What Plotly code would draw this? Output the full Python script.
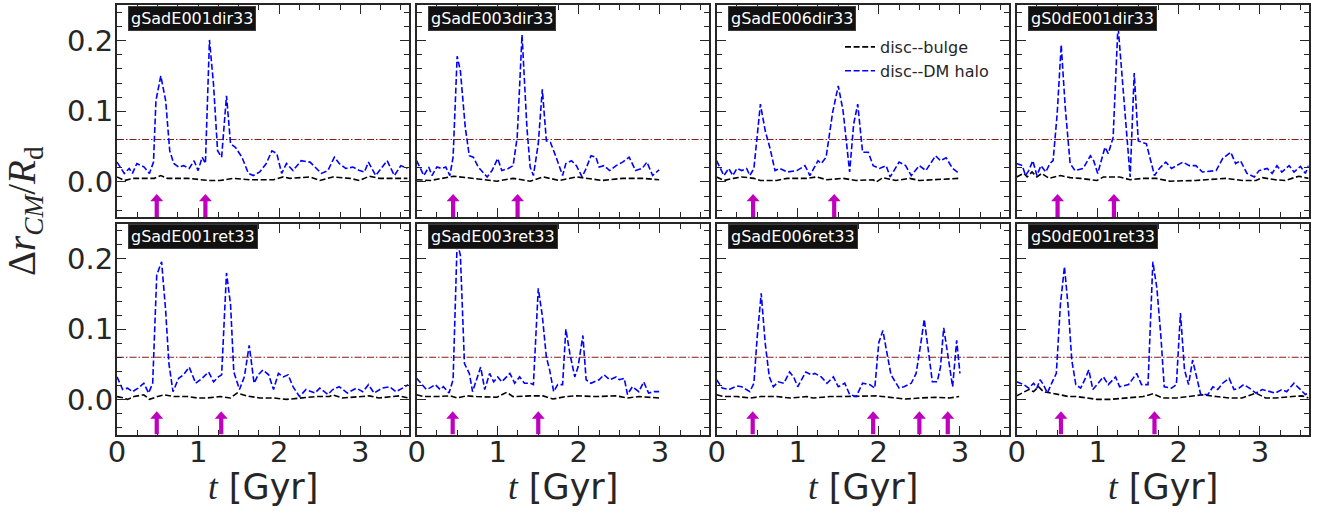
import plotly.graph_objects as go
from plotly.subplots import make_subplots

# ---------------- data ----------------
panel_names = ["gSadE001dir33", "gSadE003dir33", "gSadE006dir33", "gS0dE001dir33",
               "gSadE001ret33", "gSadE003ret33", "gSadE006ret33", "gS0dE001ret33"]

# disc--DM halo (blue)
t_halo_1 = [0.0, 0.09, 0.15, 0.19, 0.245, 0.335, 0.40, 0.45, 0.48, 0.54, 0.60, 0.65, 0.70, 0.76, 0.82, 0.89, 0.95, 1.0, 1.05, 1.09, 1.14, 1.19, 1.24, 1.29, 1.35, 1.40, 1.46, 1.54, 1.62, 1.68, 1.76, 1.84, 1.91, 1.97, 2.03, 2.09, 2.17, 2.27, 2.38, 2.46, 2.52, 2.60, 2.68, 2.74, 2.82, 2.91, 2.99, 3.05, 3.10, 3.19, 3.33, 3.42, 3.50, 3.58]
v_halo_1 = [0.028, 0.012, 0.019, 0.012, 0.026, 0.021, 0.012, 0.028, 0.115, 0.150, 0.115, 0.044, 0.026, 0.021, 0.023, 0.019, 0.030, 0.016, 0.035, 0.026, 0.201, 0.138, 0.044, 0.035, 0.122, 0.054, 0.049, 0.035, 0.012, 0.009, 0.014, 0.026, 0.044, 0.040, 0.012, 0.026, 0.016, 0.030, 0.028, 0.019, 0.012, 0.016, 0.035, 0.026, 0.019, 0.021, 0.016, 0.014, 0.028, 0.009, 0.030, 0.009, 0.023, 0.019]

t_halo_2 = [0.0, 0.09, 0.15, 0.19, 0.25, 0.31, 0.36, 0.41, 0.45, 0.50, 0.54, 0.60, 0.65, 0.70, 0.76, 0.87, 0.93, 1.0, 1.05, 1.13, 1.19, 1.24, 1.30, 1.36, 1.40, 1.44, 1.50, 1.55, 1.60, 1.65, 1.72, 1.80, 1.84, 1.91, 1.97, 2.04, 2.09, 2.15, 2.21, 2.25, 2.31, 2.38, 2.46, 2.54, 2.62, 2.70, 2.78, 2.84, 2.91, 2.99]
v_halo_2 = [0.030, 0.009, 0.021, 0.009, 0.021, 0.019, 0.021, 0.009, 0.035, 0.178, 0.157, 0.077, 0.037, 0.035, 0.021, 0.007, 0.016, 0.033, 0.016, 0.019, 0.023, 0.063, 0.208, 0.077, 0.021, 0.009, 0.054, 0.131, 0.058, 0.056, 0.035, 0.009, 0.026, 0.030, 0.023, 0.007, 0.019, 0.037, 0.035, 0.021, 0.023, 0.016, 0.023, 0.028, 0.035, 0.016, 0.019, 0.028, 0.009, 0.017]

t_halo_3 = [0.0, 0.09, 0.15, 0.20, 0.25, 0.31, 0.37, 0.41, 0.46, 0.54, 0.60, 0.66, 0.72, 0.78, 0.87, 0.99, 1.09, 1.15, 1.25, 1.29, 1.35, 1.43, 1.50, 1.56, 1.64, 1.69, 1.74, 1.80, 1.87, 1.93, 2.01, 2.09, 2.14, 2.25, 2.33, 2.40, 2.50, 2.58, 2.70, 2.76, 2.83, 2.91, 2.99]
v_halo_3 = [0.030, 0.009, 0.019, 0.009, 0.019, 0.016, 0.019, 0.009, 0.019, 0.110, 0.072, 0.047, 0.016, 0.019, 0.014, 0.016, 0.023, 0.009, 0.030, 0.026, 0.035, 0.098, 0.136, 0.100, 0.014, 0.082, 0.110, 0.042, 0.042, 0.023, 0.019, 0.023, 0.007, 0.028, 0.023, 0.009, 0.023, 0.016, 0.037, 0.030, 0.034, 0.019, 0.012]

t_halo_4 = [0.0, 0.07, 0.11, 0.15, 0.20, 0.25, 0.30, 0.36, 0.41, 0.45, 0.50, 0.55, 0.60, 0.66, 0.72, 0.82, 0.91, 0.95, 1.0, 1.09, 1.13, 1.19, 1.25, 1.31, 1.40, 1.45, 1.50, 1.60, 1.70, 1.76, 1.84, 1.91, 2.05, 2.13, 2.21, 2.29, 2.46, 2.54, 2.64, 2.70, 2.76, 2.84, 2.93, 2.99, 3.09, 3.15, 3.21, 3.27, 3.36, 3.42, 3.50, 3.56, 3.60]
v_halo_4 = [0.026, 0.023, 0.009, 0.016, 0.030, 0.009, 0.023, 0.014, 0.026, 0.030, 0.096, 0.194, 0.105, 0.026, 0.016, 0.019, 0.037, 0.030, 0.012, 0.049, 0.040, 0.063, 0.222, 0.138, 0.007, 0.154, 0.058, 0.054, 0.009, 0.019, 0.028, 0.019, 0.028, 0.023, 0.023, 0.014, 0.016, 0.033, 0.042, 0.026, 0.030, 0.012, 0.007, 0.016, 0.019, 0.012, 0.023, 0.014, 0.023, 0.014, 0.022, 0.012, 0.023]

t_halo_5 = [0.0, 0.07, 0.13, 0.19, 0.26, 0.33, 0.39, 0.44, 0.49, 0.55, 0.60, 0.64, 0.69, 0.76, 0.82, 0.89, 0.97, 1.05, 1.13, 1.19, 1.25, 1.29, 1.35, 1.40, 1.44, 1.51, 1.57, 1.63, 1.69, 1.74, 1.80, 1.87, 1.93, 1.99, 2.05, 2.11, 2.17, 2.25, 2.33, 2.44, 2.50, 2.60, 2.66, 2.74, 2.84, 2.95, 3.03, 3.10, 3.17, 3.27, 3.36, 3.44, 3.52, 3.59]
v_halo_5 = [0.032, 0.014, 0.016, 0.011, 0.016, 0.023, 0.009, 0.023, 0.177, 0.196, 0.126, 0.051, 0.011, 0.030, 0.035, 0.046, 0.023, 0.030, 0.039, 0.025, 0.032, 0.035, 0.180, 0.135, 0.039, 0.014, 0.032, 0.077, 0.023, 0.035, 0.042, 0.035, 0.014, 0.037, 0.032, 0.035, 0.018, 0.004, 0.014, 0.009, 0.016, 0.007, 0.014, 0.018, 0.009, 0.016, 0.011, 0.021, 0.009, 0.016, 0.018, 0.011, 0.016, 0.021]

t_halo_6 = [0.0, 0.07, 0.12, 0.16, 0.23, 0.29, 0.33, 0.40, 0.45, 0.50, 0.54, 0.59, 0.65, 0.69, 0.74, 0.79, 0.84, 0.90, 0.95, 1.0, 1.05, 1.11, 1.15, 1.21, 1.27, 1.33, 1.40, 1.44, 1.50, 1.55, 1.60, 1.64, 1.69, 1.74, 1.80, 1.84, 1.89, 1.95, 1.99, 2.05, 2.09, 2.15, 2.25, 2.31, 2.38, 2.46, 2.50, 2.56, 2.60, 2.66, 2.74, 2.80, 2.86, 2.93, 2.99]
v_halo_6 = [0.030, 0.021, 0.014, 0.016, 0.021, 0.014, 0.018, 0.009, 0.028, 0.225, 0.205, 0.051, 0.037, 0.011, 0.030, 0.046, 0.014, 0.037, 0.025, 0.032, 0.025, 0.032, 0.037, 0.023, 0.032, 0.023, 0.023, 0.021, 0.158, 0.119, 0.060, 0.042, 0.011, 0.021, 0.021, 0.100, 0.065, 0.032, 0.046, 0.091, 0.028, 0.023, 0.028, 0.035, 0.028, 0.032, 0.028, 0.030, 0.007, 0.018, 0.011, 0.025, 0.009, 0.011, 0.011]

t_halo_7 = [0.0, 0.07, 0.15, 0.25, 0.31, 0.41, 0.46, 0.50, 0.55, 0.60, 0.65, 0.70, 0.76, 0.83, 0.90, 0.95, 1.0, 1.10, 1.17, 1.21, 1.29, 1.36, 1.44, 1.50, 1.58, 1.64, 1.72, 1.80, 1.89, 1.95, 2.0, 2.05, 2.11, 2.15, 2.25, 2.31, 2.40, 2.46, 2.51, 2.56, 2.61, 2.66, 2.72, 2.76, 2.80, 2.86, 2.91, 2.96, 3.0]
v_halo_7 = [0.028, 0.016, 0.014, 0.019, 0.018, 0.011, 0.023, 0.088, 0.151, 0.079, 0.032, 0.018, 0.025, 0.023, 0.039, 0.032, 0.018, 0.039, 0.035, 0.037, 0.032, 0.023, 0.032, 0.018, 0.023, 0.007, 0.004, 0.023, 0.021, 0.016, 0.081, 0.098, 0.060, 0.035, 0.016, 0.018, 0.023, 0.037, 0.074, 0.114, 0.070, 0.025, 0.025, 0.046, 0.102, 0.056, 0.018, 0.084, 0.037]

t_halo_8 = [0.0, 0.09, 0.15, 0.21, 0.25, 0.29, 0.33, 0.38, 0.44, 0.49, 0.54, 0.59, 0.64, 0.68, 0.73, 0.79, 0.84, 0.89, 0.94, 0.99, 1.07, 1.13, 1.22, 1.27, 1.38, 1.48, 1.54, 1.62, 1.68, 1.73, 1.78, 1.82, 1.91, 1.97, 2.02, 2.07, 2.12, 2.17, 2.22, 2.27, 2.36, 2.42, 2.48, 2.54, 2.62, 2.68, 2.74, 2.80, 2.87, 2.95, 3.03, 3.11, 3.19, 3.27, 3.33, 3.42, 3.48, 3.56, 3.60]
v_halo_8 = [0.025, 0.021, 0.016, 0.023, 0.016, 0.028, 0.021, 0.009, 0.025, 0.037, 0.135, 0.189, 0.126, 0.056, 0.021, 0.016, 0.028, 0.042, 0.014, 0.021, 0.032, 0.021, 0.032, 0.018, 0.021, 0.037, 0.021, 0.021, 0.196, 0.158, 0.088, 0.018, 0.016, 0.021, 0.123, 0.042, 0.021, 0.056, 0.032, 0.007, 0.007, 0.018, 0.014, 0.023, 0.030, 0.014, 0.016, 0.021, 0.016, 0.009, 0.014, 0.011, 0.009, 0.014, 0.011, 0.023, 0.016, 0.007, 0.009]

# disc--bulge (black)
t_bulge_1 = [0.0, 0.09, 0.21, 0.33, 0.46, 0.54, 0.62, 0.87, 1.13, 1.27, 1.44, 1.64, 1.93, 2.05, 2.13, 2.38, 2.50, 2.66, 2.87, 2.99, 3.11, 3.23, 3.58]
v_bulge_1 = [0.007, 0.002, 0.005, 0.005, 0.005, 0.009, 0.005, 0.005, 0.002, 0.002, 0.005, 0.003, 0.003, 0.007, 0.005, 0.007, 0.002, 0.007, 0.005, 0.002, 0.008, 0.005, 0.005]

t_bulge_2 = [0.0, 0.17, 0.46, 0.66, 0.99, 1.19, 1.40, 1.56, 1.76, 1.97, 2.29, 2.54, 2.78, 2.99]
v_bulge_2 = [0.003, 0.002, 0.008, 0.005, 0.001, 0.005, 0.001, 0.007, 0.002, 0.007, 0.002, 0.005, 0.005, 0.003]

t_bulge_3 = [0.0, 0.09, 0.21, 0.31, 0.46, 0.54, 0.74, 0.87, 1.11, 1.23, 1.36, 1.56, 1.72, 1.93, 1.97, 2.05, 2.21, 2.38, 2.50, 2.70, 2.99]
v_bulge_3 = [0.007, 0.002, 0.005, 0.007, 0.005, 0.002, 0.002, 0.005, 0.005, 0.007, 0.003, 0.005, 0.002, 0.003, 0.000, 0.006, 0.002, 0.005, 0.002, 0.003, 0.005]

t_bulge_4 = [0.0, 0.09, 0.13, 0.19, 0.25, 0.31, 0.40, 0.54, 0.66, 0.78, 0.99, 1.07, 1.27, 1.40, 1.56, 1.72, 1.89, 2.21, 2.58, 2.78, 2.95, 3.03, 3.19, 3.31, 3.48, 3.60]
v_bulge_4 = [0.007, 0.012, 0.007, 0.014, 0.007, 0.012, 0.005, 0.009, 0.006, 0.005, 0.002, 0.007, 0.007, 0.003, 0.005, 0.005, 0.001, 0.002, 0.005, 0.002, 0.002, 0.006, 0.003, 0.002, 0.008, 0.005]

t_bulge_5 = [0.0, 0.09, 0.13, 0.21, 0.33, 0.40, 0.50, 0.58, 0.70, 0.87, 0.99, 1.11, 1.27, 1.40, 1.48, 1.60, 1.76, 1.93, 2.09, 2.25, 2.46, 2.62, 2.66, 2.78, 2.95, 3.11, 3.23, 3.48, 3.59]
v_bulge_5 = [0.004, 0.002, 0.000, 0.004, 0.0065, 0.000, 0.004, 0.0065, 0.004, 0.004, 0.002, 0.002, 0.004, 0.002, 0.009, 0.005, 0.002, 0.002, 0.000, 0.002, 0.004, 0.004, 0.0065, 0.002, 0.004, 0.005, 0.002, 0.005, 0.002]

t_bulge_6 = [0.0, 0.09, 0.25, 0.42, 0.50, 0.62, 0.74, 0.99, 1.11, 1.19, 1.40, 1.56, 1.68, 1.84, 1.97, 2.21, 2.46, 2.60, 2.74, 2.95, 2.99]
v_bulge_6 = [0.0065, 0.004, 0.004, 0.005, 0.002, 0.005, 0.004, 0.003, 0.010, 0.004, 0.005, 0.005, 0.0005, 0.004, 0.005, 0.004, 0.005, 0.002, 0.004, 0.003, 0.002]

t_bulge_7 = [0.0, 0.09, 0.25, 0.42, 0.54, 0.74, 0.91, 1.11, 1.19, 1.40, 1.56, 1.76, 1.97, 2.21, 2.33, 2.50, 2.70, 2.87, 2.99]
v_bulge_7 = [0.0065, 0.004, 0.004, 0.002, 0.004, 0.004, 0.002, 0.004, 0.002, 0.004, 0.004, 0.004, 0.005, 0.002, 0.0005, 0.002, 0.003, 0.002, 0.004]

t_bulge_8 = [0.0, 0.09, 0.15, 0.21, 0.27, 0.33, 0.44, 0.54, 0.64, 0.74, 0.87, 0.99, 1.15, 1.36, 1.56, 1.68, 1.80, 1.97, 2.13, 2.29, 2.46, 2.62, 2.78, 2.95, 3.07, 3.19, 3.40, 3.52, 3.60]
v_bulge_8 = [0.005, 0.011, 0.014, 0.011, 0.018, 0.011, 0.009, 0.0065, 0.004, 0.004, 0.002, 0.000, 0.000, 0.002, 0.004, 0.008, 0.002, 0.002, 0.004, 0.0065, 0.004, 0.002, 0.002, 0.009, 0.002, 0.002, 0.004, 0.005, 0.002]

# arrow (event) times per panel, in Gyr
arrows_1 = [0.49, 1.09]
arrows_2 = [0.45, 1.245]
arrows_3 = [0.45, 1.45]
arrows_4 = [0.505, 1.20]
arrows_5 = [0.49, 1.285]
arrows_6 = [0.445, 1.50]
arrows_7 = [0.445, 1.93, 2.50, 2.85]
arrows_8 = [0.547, 1.70]

threshold = 0.06

x_ticks = [0, 1, 2, 3]
y_ticks = [0.0, 0.1, 0.2]
x_range = [0, 3.6]
y_range = [-0.05, 0.25]

halo_t = [t_halo_1, t_halo_2, t_halo_3, t_halo_4, t_halo_5, t_halo_6, t_halo_7, t_halo_8]
halo_v = [v_halo_1, v_halo_2, v_halo_3, v_halo_4, v_halo_5, v_halo_6, v_halo_7, v_halo_8]
bulge_t = [t_bulge_1, t_bulge_2, t_bulge_3, t_bulge_4, t_bulge_5, t_bulge_6, t_bulge_7, t_bulge_8]
bulge_v = [v_bulge_1, v_bulge_2, v_bulge_3, v_bulge_4, v_bulge_5, v_bulge_6, v_bulge_7, v_bulge_8]
arrows = [arrows_1, arrows_2, arrows_3, arrows_4, arrows_5, arrows_6, arrows_7, arrows_8]

# ---------------- figure ----------------
W, H = 1331, 513
TXT = "#262626"
col_px = [(117, 409), (416.6, 708.6), (716.6, 1008.6), (1016.6, 1308.6)]
row_px = [(5.3, 217.2), (223.8, 434.5)]

fig = make_subplots(rows=2, cols=4)

for i in range(8):
    r, c = i // 4, i % 4
    n = i + 1
    sfx = "" if n == 1 else str(n)
    fig.add_trace(go.Scatter(x=bulge_t[i], y=bulge_v[i], mode="lines",
                             line=dict(color="black", width=1.6, dash="6px,2.6px"),
                             name="disc--bulge", showlegend=(i == 0), legendrank=1),
                  row=r + 1, col=c + 1)
    fig.add_trace(go.Scatter(x=halo_t[i], y=halo_v[i], mode="lines",
                             line=dict(color="#0000ff", width=1.6, dash="6px,2.6px"),
                             name="disc--DM halo", showlegend=(i == 0), legendrank=2),
                  row=r + 1, col=c + 1)

    x0, x1 = col_px[c]
    y0, y1 = row_px[r]
    axis_common = dict(showline=True, linecolor=TXT, linewidth=2, mirror="allticks",
                       ticks="inside", ticklen=9, tickwidth=1.3, tickcolor=TXT,
                       showgrid=False, zeroline=False, automargin=False,
                       tickfont=dict(family="DejaVu Sans", size=29, color=TXT))
    fig.layout["xaxis" + sfx].update(domain=[x0 / W, x1 / W], range=x_range,
                                     tickvals=x_ticks, showticklabels=(r == 1),
                                     ticklabelstandoff=-9,
                                     minor=dict(dtick=0.25, tick0=0, ticks="inside", ticklen=5,
                                                tickwidth=1.1, tickcolor=TXT),
                                     **axis_common)
    fig.layout["yaxis" + sfx].update(domain=[1 - y1 / H, 1 - y0 / H], range=y_range,
                                     tickvals=y_ticks, tickformat=".1f",
                                     showticklabels=(c == 0),
                                     ticklabelstandoff=-4,
                                     minor=dict(dtick=0.02, tick0=0, ticks="inside", ticklen=5,
                                                tickwidth=1.1, tickcolor=TXT),
                                     **axis_common)

    # threshold line
    fig.add_shape(type="line", xref=f"x{sfx} domain", x0=0, x1=1,
                  yref=f"y{sfx}", y0=threshold, y1=threshold,
                  line=dict(color="#8b1a1a", width=1.2, dash="7px,2px,1.5px,2px"),
                  layer="below")

    # arrows
    base, tip, head = y_range[0], -0.017, 0.0105
    sw, hw = 0.026, 0.08
    for ta in arrows[i]:
        path = (f"M{ta - sw},{base} L{ta - sw},{tip - head} L{ta - hw},{tip - head} "
                f"L{ta},{tip} L{ta + hw},{tip - head} L{ta + sw},{tip - head} L{ta + sw},{base} Z")
        fig.add_shape(type="path", path=path, xref=f"x{sfx}", yref=f"y{sfx}",
                      fillcolor="#bf00bf", line=dict(width=0), layer="above")

    # panel label
    fig.add_annotation(text=panel_names[i], xref=f"x{sfx} domain", yref=f"y{sfx} domain",
                       x=11 / 292, y=1 - 0.5 / 212, xanchor="left", yanchor="top",
                       showarrow=False, bgcolor="#111111", bordercolor="#3a3a3a",
                       borderwidth=1, borderpad=2,
                       font=dict(family="DejaVu Sans", size=16, color="white"))

    if r == 1:
        fig.add_annotation(text='<span style="font-family:Liberation Serif"><i>t</i></span> [Gyr]',
                           xref="paper", yref="paper", x=(x0 + x1) / 2 / W, y=1 - 487 / H,
                           xanchor="center", yanchor="middle", showarrow=False,
                           font=dict(family="DejaVu Sans", size=35, color=TXT))

fig.add_annotation(text="Δ<i>r</i><sub><i>CM</i></sub>/<i>R</i><sub>d</sub>",
                   xref="paper", yref="paper", x=25 / W, y=1 - 211 / H,
                   xanchor="center", yanchor="middle", textangle=-90, showarrow=False,
                   font=dict(family="Liberation Serif", size=39, color=TXT))

fig.update_layout(width=W, height=H, margin=dict(l=0, r=0, t=0, b=0),
                  paper_bgcolor="white", plot_bgcolor="white",
                  showlegend=True,
                  legend=dict(x=840 / W, y=1 - 30 / H, xanchor="left", yanchor="top",
                              bgcolor="rgba(0,0,0,0)", borderwidth=0,
                              font=dict(family="DejaVu Sans", size=16, color=TXT),
                              traceorder="normal", itemwidth=30))

fig.write_html("out.html")
